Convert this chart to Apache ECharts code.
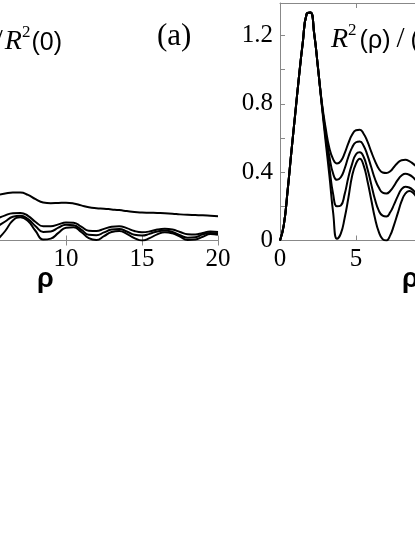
<!DOCTYPE html>
<html>
<head>
<meta charset="utf-8">
<script src="https://cdn.jsdelivr.net/npm/echarts@6/dist/echarts.min.js"></script>
<style>
  html, body { margin: 0; padding: 0; background: #fff; }
  #chart { width: 415px; height: 537px; }
</style>
</head>
<body>
<div id="chart"></div>
<script>
// panel (a): rho from 5.5 to 20
const rhoL = [5.5, 6, 6.5, 7, 7.5, 8, 8.5, 9, 9.5, 10, 10.5, 11, 11.5, 12, 12.5, 13, 13.5, 14, 14.5, 15,
  15.5, 16, 16.5, 17, 17.5, 18, 18.5, 19, 19.5, 20]
const lineL1 = [0.96, 0.99, 1.01, 1.01, 0.96, 0.87, 0.8, 0.785, 0.79, 0.795, 0.78, 0.74, 0.7, 0.68, 0.67, 0.655, 0.64, 0.62, 0.6, 0.59,
  0.585, 0.58, 0.575, 0.565, 0.55, 0.54, 0.535, 0.53, 0.52, 0.51]
const lineL2 = [0.46, 0.53, 0.575, 0.58, 0.52, 0.39, 0.3, 0.3, 0.34, 0.38, 0.375, 0.29, 0.205, 0.2, 0.245, 0.29, 0.3, 0.26, 0.2, 0.175,
  0.19, 0.23, 0.245, 0.23, 0.18, 0.13, 0.125, 0.16, 0.19, 0.18]
const lineL3 = [0.3, 0.4, 0.5, 0.52, 0.45, 0.3, 0.18, 0.19, 0.27, 0.33, 0.32, 0.23, 0.12, 0.11, 0.17, 0.23, 0.24, 0.19, 0.12, 0.105,
  0.14, 0.19, 0.21, 0.18, 0.11, 0.06, 0.07, 0.13, 0.16, 0.15]
const lineL4 = [0.02, 0.2, 0.42, 0.49, 0.41, 0.2, 0.02, 0.04, 0.16, 0.27, 0.28, 0.18, 0.05, 0.01, 0.09, 0.18, 0.2, 0.14, 0.05, 0,
  0.05, 0.13, 0.175, 0.15, 0.08, 0.01, 0.02, 0.08, 0.135, 0.12]

// panel (b): rho from 0 to 9.25
const rhoR = [0, 0.25, 0.5, 0.75, 1, 1.25, 1.5, 1.75, 2, 2.25, 2.5, 2.75, 3, 3.25, 3.5, 3.75, 4, 4.25, 4.5, 4.75,
  5, 5.25, 5.5, 5.75, 6, 6.25, 6.5, 6.75, 7, 7.25, 7.5, 7.75, 8, 8.25, 8.5, 8.75, 9, 9.25]
const lineR1 = [0, 0.09, 0.29, 0.52, 0.74, 0.96, 1.16, 1.325, 1.335, 1.21, 1.01, 0.81, 0.66, 0.54, 0.475, 0.45, 0.465, 0.51, 0.57, 0.62,
  0.645, 0.648, 0.625, 0.58, 0.52, 0.465, 0.42, 0.398, 0.395, 0.405, 0.43, 0.455, 0.47, 0.472, 0.465, 0.45, 0.43, 0.41]
const lineR2 = [0, 0.09, 0.29, 0.52, 0.74, 0.96, 1.16, 1.325, 1.335, 1.21, 1.01, 0.8, 0.63, 0.49, 0.39, 0.355, 0.37, 0.42, 0.49, 0.545,
  0.575, 0.58, 0.555, 0.5, 0.43, 0.36, 0.31, 0.28, 0.275, 0.29, 0.32, 0.355, 0.38, 0.39, 0.385, 0.37, 0.345, 0.32]
const lineR3 = [0, 0.09, 0.29, 0.52, 0.74, 0.96, 1.16, 1.325, 1.335, 1.21, 1.01, 0.8, 0.61, 0.43, 0.27, 0.2, 0.205, 0.27, 0.37, 0.45,
  0.505, 0.516, 0.49, 0.42, 0.33, 0.24, 0.175, 0.145, 0.14, 0.165, 0.21, 0.26, 0.3, 0.315, 0.31, 0.295, 0.27, 0.24]
const lineR4 = [0, 0.09, 0.29, 0.52, 0.74, 0.96, 1.16, 1.325, 1.335, 1.21, 1.01, 0.79, 0.58, 0.38, 0.16, 0.01, 0.04, 0.13, 0.25, 0.38,
  0.45, 0.478, 0.44, 0.35, 0.24, 0.13, 0.05, 0.008, 0, 0.03, 0.09, 0.16, 0.23, 0.275, 0.29, 0.28, 0.25, 0.21]

const serif = 'Liberation Serif'
const frameColor = '#888888'

const chart = echarts.init(document.getElementById('chart'))

const pairs = (xs, ys) => xs.map((x, i) => [x, ys[i]])

const xAxisOf = (gridIndex, position, showLabel) => ({
  type: 'value',
  gridIndex,
  position,
  min: 0,
  max: 20,
  interval: 5,
  axisLine: { lineStyle: { color: frameColor, width: 1 } },
  axisTick: { inside: true, length: 5, lineStyle: { color: frameColor } },
  axisLabel: {
    show: showLabel,
    color: '#000',
    fontFamily: serif,
    fontSize: 25,
    margin: 6,
    hideOverlap: false,
  },
  splitLine: { show: false },
})

const lineSeries = (name, xi, yi, data) => ({
  name,
  type: 'line',
  xAxisIndex: xi,
  yAxisIndex: yi,
  data,
  smooth: true,
  showSymbol: false,
  silent: true,
  clip: true,
  lineStyle: { color: '#000', width: 2 },
})

// rich styles for the R^2(rho)/R^2(0) labels; pad = spacing around the sans parts
const richOf = (pad, slashPad) => ({
  r: { fontFamily: serif, fontStyle: 'italic', fontSize: 28, fill: '#000', verticalAlign: 'bottom', lineHeight: 32 },
  s: { fontFamily: serif, fontSize: 17, fill: '#000', verticalAlign: 'top', lineHeight: 32 },
  t: { fontFamily: 'Liberation Sans', fontSize: 25, fill: '#000', verticalAlign: 'bottom', lineHeight: 32, padding: [0, pad, 0, pad] },
  sl: { fontFamily: serif, fontSize: 29, fill: '#000', verticalAlign: 'bottom', lineHeight: 32, padding: [0, slashPad, 0, slashPad] },
})

const option = {
  animation: false,
  backgroundColor: '#fff',
  grid: [
    { left: -86, width: 304, top: 3, height: 237.5, containLabel: false, outerBoundsMode: 'none' },
    { left: 280, width: 304, top: 3, height: 237.5, containLabel: false, outerBoundsMode: 'none' },
  ],
  xAxis: [
    xAxisOf(0, 'bottom', true),
    xAxisOf(0, 'top', false),
    xAxisOf(1, 'bottom', true),
    xAxisOf(1, 'top', false),
  ],
  yAxis: [
    {
      type: 'value', gridIndex: 0, position: 'left', min: 0, max: 5, interval: 1,
      axisLine: { show: true, lineStyle: { color: frameColor } },
      axisTick: { show: true, inside: true, length: 5, lineStyle: { color: frameColor } },
      axisLabel: { show: false },
      splitLine: { show: false },
    },
    {
      type: 'value', gridIndex: 0, position: 'right', min: 0, max: 5, interval: 1,
      axisLine: { show: true, lineStyle: { color: frameColor } },
      axisTick: { show: true, inside: true, length: 5, lineStyle: { color: frameColor } },
      axisLabel: { show: false },
      splitLine: { show: false },
    },
    {
      type: 'value', gridIndex: 1, position: 'left', min: 0, max: 1.39, interval: 0.2,
      axisLine: { show: true, lineStyle: { color: frameColor } },
      axisTick: { show: true, inside: true, length: 5, lineStyle: { color: frameColor } },
      axisLabel: {
        color: '#000',
        fontFamily: serif,
        fontSize: 25,
        margin: 7,
        showMaxLabel: false,
        // labels only every 0.4, ticks every 0.2
        formatter: (v) => (Math.round(v * 10) % 4 === 0 ? String(+v.toFixed(1)) : ''),
      },
      splitLine: { show: false },
    },
  ],
  graphic: [
    {
      type: 'text',
      left: 157,
      top: 21,
      style: { text: '(a)', font: '31px "Liberation Serif"', fill: '#000' },
    },
    {
      // label of panel (a), its start is cut off on the left
      type: 'text',
      right: 352,
      top: 24,
      style: { text: '{r|R}{s|2}{t|(ρ)}{sl|/}{r|R}{s|2}{t|(0)}', rich: richOf(1, 2) },
    },
    {
      type: 'text',
      left: 331,
      top: 22,
      style: { text: '{r|R}{s|2}{t|(ρ)}{sl|/}{t|(}{r|R}{s|2}{t|(0))}', rich: richOf(3, 3) },
    },
    {
      type: 'text',
      left: 37,
      top: 266,
      style: { text: 'ρ', font: 'bold 27px "Liberation Sans"', fill: '#000' },
    },
    {
      type: 'text',
      left: 402,
      top: 266,
      style: { text: 'ρ', font: 'bold 27px "Liberation Sans"', fill: '#000' },
    },
  ],
  series: [
    lineSeries('a1', 0, 0, pairs(rhoL, lineL1)),
    lineSeries('a2', 0, 0, pairs(rhoL, lineL2)),
    lineSeries('a3', 0, 0, pairs(rhoL, lineL3)),
    lineSeries('a4', 0, 0, pairs(rhoL, lineL4)),
    lineSeries('b1', 2, 2, pairs(rhoR, lineR1)),
    lineSeries('b2', 2, 2, pairs(rhoR, lineR2)),
    lineSeries('b3', 2, 2, pairs(rhoR, lineR3)),
    lineSeries('b4', 2, 2, pairs(rhoR, lineR4)),
  ],
}

chart.setOption(option)
</script>
</body>
</html>
